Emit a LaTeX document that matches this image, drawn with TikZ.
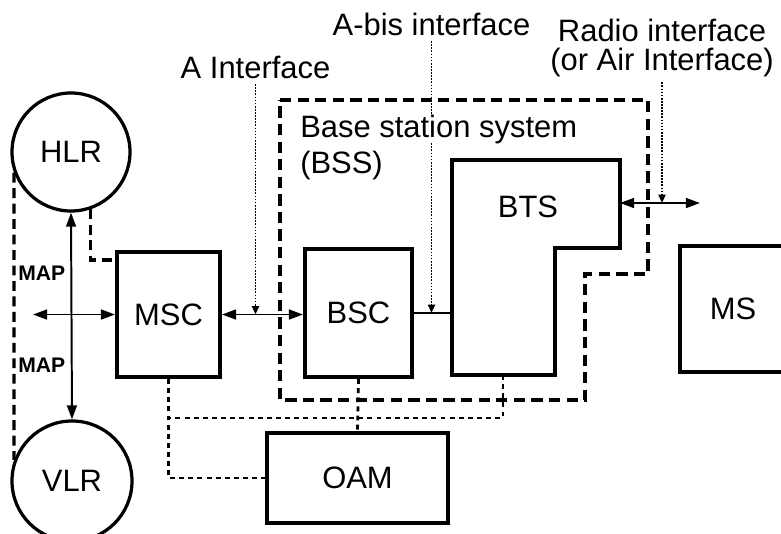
\documentclass[tikz,border=0pt]{standalone}
\usepackage{fontspec}
\setmainfont{Liberation Sans}
\usetikzlibrary{arrows.meta, positioning, calc}

\begin{document}
\begin{tikzpicture}[x=0.025cm, y=-0.025cm, font=\fontsize{22}{24}\selectfont,
  unit/.style={draw, line width=2.8pt, inner sep=0pt},
  store/.style={draw, circle, line width=2.3pt, inner sep=0pt},
  link/.style={line width=1.4pt, {Triangle[length=10pt,width=7pt]}-{Triangle[length=10pt,width=7pt]}},
  ifline/.style={line width=1.4pt, dash pattern=on 1.2pt off 1pt, shorten <=4pt, -{Triangle[length=6pt,width=5pt]}},
  oamlink/.style={line width=2pt, dash pattern=on 3.5pt off 3pt},
  mapline/.style={line width=2.3pt, dash pattern=on 7pt off 4pt},
  bssline/.style={line width=2.4pt, dash pattern=on 8pt off 4.5pt},
  tag/.style={inner sep=0pt}]
  \useasboundingbox (0,0) rectangle (781,533);

  % location registers
  \node[store, minimum size=2.95cm] (HLR) at (71,152) {HLR};
  \node[store, minimum size=3cm] (VLR) at (72,481) {VLR};

  % network units
  \node[unit, minimum width=2.575cm, minimum height=3.125cm] (MSC) at (168.5,314.5) {MSC};
  \node[unit, minimum width=2.675cm, minimum height=3.2cm] (BSC) at (358.5,313) {BSC};
  \node[unit, minimum width=2.65cm, minimum height=3.15cm] (MS) at (733,309) {MS};
  \node[unit, minimum width=4.525cm, minimum height=2.25cm] (OAM) at (357.5,478) {OAM};

  % BTS outline
  \draw[line width=2.8pt] (452,160) -- (620,160) -- (620,248) -- (555,248) -- (555,375) -- (452,375) -- cycle;
  \node (BTS) at (528,207) {BTS};
  \coordinate (btsin) at (452,313);
  \coordinate (btsout) at (620,203);
  \coordinate (btsfoot) at (503,375);
  \coordinate (airend) at (700,203);
  \coordinate (mapend) at (33,314.5);
  \coordinate (oamjoin) at (168.5,418);

  % BSS frame
  \draw[bssline] (280,100) -- (648,100) -- (648,274) -- (585,274) -- (585,400) -- (280,400) -- cycle;

  % interface labels
  \node[tag, anchor=base] (AIf) at (255.5,78) {A Interface};
  \node[tag, anchor=base] (AbisIf) at (431.5,35) {A-bis interface};
  \node[tag, align=center, font=\fontsize{22}{20}\selectfont] (RadioIf) at (662,48) {Radio interface\\(or Air Interface)};

  \draw[ifline] (AIf.south) -- (AIf.south |- MSC.east);
  \draw[ifline] (AbisIf.south) -- (AbisIf.south |- BSC.east);
  \draw[ifline] (RadioIf.south) -- (RadioIf.south |- btsout);

  \node[tag, fill=white, anchor=base west] (BSSname) at (300,137) {Base station system};
  \node[tag, anchor=base west] (BSSabbr) at (300,173) {(BSS)};
  \node[tag, anchor=base west, font=\fontsize{15}{16}\selectfont\bfseries] (MAPup) at (18,280) {MAP};
  \node[tag, anchor=base west, font=\fontsize{15}{16}\selectfont\bfseries] (MAPdown) at (18,372) {MAP};

  % signalling links
  \draw[link] (HLR.south) -- (VLR.north);
  \draw[link] (mapend) -- (MSC.west);
  \draw[link] (MSC.east) -- (MSC.east -| BSC.west);
  \draw[line width=1.4pt] (BSC.east) -- (btsin);
  \draw[link] (btsout) -- (airend);

  \draw[mapline] (HLR.200) -- (VLR.160);
  \draw[mapline] (HLR.-71) |- ($(MSC.north west)+(0,10)$);

  % OAM links
  \draw[oamlink] (MSC.south) |- (OAM.west);
  \draw[oamlink] (BSC.south) -- (OAM.north);
  \draw[oamlink] (btsfoot) |- (oamjoin);
\end{tikzpicture}
\end{document}
